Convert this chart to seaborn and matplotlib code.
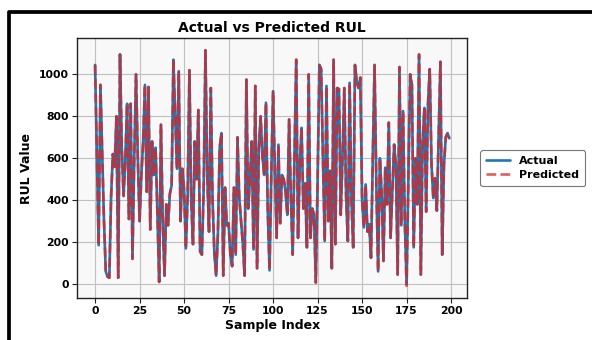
import numpy as np
import pandas as pd
import seaborn as sns
import matplotlib
matplotlib.use("Agg")
import matplotlib.pyplot as plt
from matplotlib.patches import Rectangle

# ---- data ----
actual = [
    1045, 620, 185, 950, 620, 300, 60, 35, 30, 420,
    620, 560, 800, 30, 1095, 650, 420, 600, 860, 310,
    860, 120, 600, 1000, 600, 300, 520, 680, 950, 440,
    940, 260, 680, 520, 650, 340, 10, 760, 300, 40,
    380, 280, 430, 470, 1070, 800, 550, 1015, 300, 550,
    450, 170, 420, 1020, 400, 190, 680, 500, 830, 155,
    140, 450, 1115, 520, 250, 935, 400, 150, 40, 240,
    650, 720, 40, 460, 280, 290, 140, 85, 460, 140,
    700, 410, 300, 190, 40, 975, 360, 500, 680, 165,
    945, 75, 650, 800, 610, 520, 865, 350, 65, 520,
    920, 540, 220, 665, 290, 520, 500, 440, 330, 785,
    410, 140, 600, 1070, 220, 570, 745, 360, 480, 175,
    1000, 220, 360, 330, 10, 490, 1045, 1025, 600, 205,
    945, 300, 540, 75, 1070, 190, 935, 930, 330, 600,
    935, 420, 205, 960, 400, 175, 1045, 965, 935, 985,
    400, 270, 475, 250, 285, 125, 600, 1045, 475, 60,
    600, 430, 110, 555, 380, 770, 220, 440, 665, 560,
    45, 1035, 280, 825, 300, 0, 500, 1000, 950, 175,
    600, 380, 1095, 45, 680, 840, 345, 855, 1025, 570,
    410, 505, 350, 715, 1060, 140, 570, 700, 720, 695,
]
predicted = list(actual)
predicted[175] = -9
predicted[124] = 5
sample_index = list(range(len(actual)))

series_names = ["Actual", "Predicted"]
title = "Actual vs Predicted RUL"
xlabel = "Sample Index"
ylabel = "RUL Value"

df = pd.DataFrame({"idx": sample_index, "Actual": actual, "Predicted": predicted})

sns.set_theme(style="ticks")
plt.rcParams["font.family"] = ["DejaVu Sans"]
plt.rcParams.update({"text.color": "black", "axes.labelcolor": "black",
                     "xtick.color": "black", "ytick.color": "black"})

fig = plt.figure(figsize=(5.92, 3.40), dpi=100)
ax = fig.add_axes([0.1307, 0.1244, 0.6582, 0.7624])
ax.set_facecolor("#f8f8f8")

sns.lineplot(data=df, x="idx", y="Actual", ax=ax, color="#1f77b4",
             linewidth=1.9, label=series_names[0])
sns.lineplot(data=df, x="idx", y="Predicted", ax=ax, color="#d62728",
             linewidth=1.9, linestyle="--", alpha=0.75, label=series_names[1])

ax.grid(True, color="#c0c0c0", linewidth=0.8)
ax.set_axisbelow(True)
ax.set_xticks([0, 25, 50, 75, 100, 125, 150, 175, 200])
ax.set_yticks([0, 200, 400, 600, 800, 1000])
ax.margins(x=0.05, y=0.05)
for s in ax.spines.values():
    s.set_color("#222222")
    s.set_linewidth(1.0)
ax.tick_params(axis="both", labelsize=7.8, length=3.5, width=0.8, color="#222222",
               labelcolor="black", pad=2.5)
for lab in ax.get_xticklabels() + ax.get_yticklabels():
    lab.set_fontweight("bold")

ax.set_title(title, fontsize=10, fontweight="bold", pad=5, color="black")
ax.set_xlabel(xlabel, fontsize=9, fontweight="bold", labelpad=2, color="black")
ax.set_ylabel(ylabel, fontsize=9, fontweight="bold", labelpad=4, color="black")

leg = ax.legend(loc="center left", bbox_to_anchor=(1.02, 0.5),
                prop={"weight": "bold", "size": 8}, frameon=True,
                handlelength=2.2, borderpad=0.5, labelspacing=0.4)
for t in leg.get_texts():
    t.set_color("black")
leg.get_frame().set_edgecolor("#555555")
leg.get_frame().set_linewidth(0.8)
leg.get_frame().set_facecolor("white")

# black screenshot border on left/top
fig.patches.append(Rectangle((9.4 / 592, -0.1), 1.2, 1 - 12.3 / 340 + 0.1,
                             transform=fig.transFigure, fill=False,
                             edgecolor="black", linewidth=2.7, joinstyle="round"))

fig.savefig("out.png", dpi=100, facecolor="white")
